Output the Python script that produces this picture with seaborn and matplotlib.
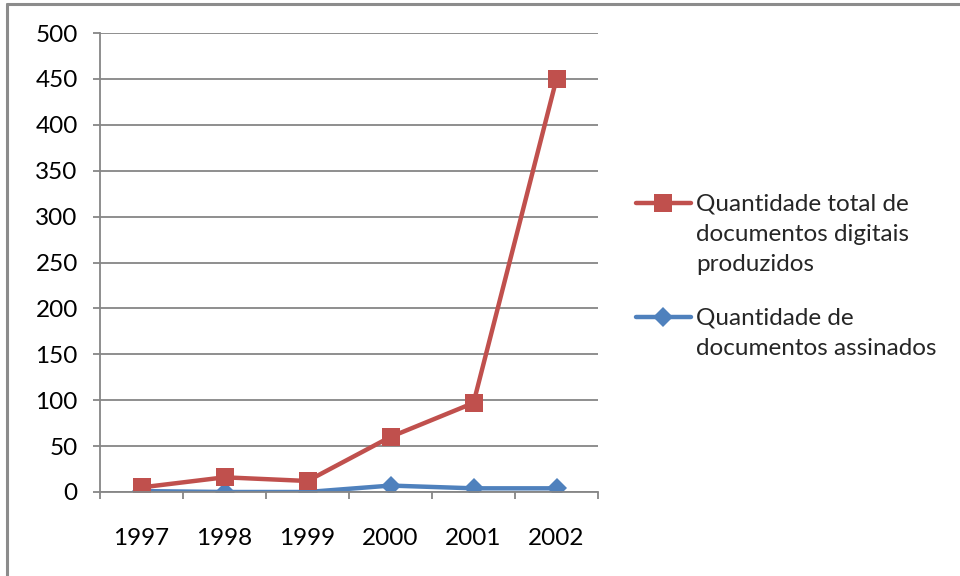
import matplotlib
matplotlib.use("Agg")
import matplotlib.pyplot as plt
from matplotlib.lines import Line2D
import seaborn as sns
import pandas as pd
import numpy as np

years = ["1997", "1998", "1999", "2000", "2001", "2002"]
total_docs = [5, 16, 12, 60, 97, 450]
signed_docs = [1, 0, 0, 7, 4, 4]
label_total = "Quantidade total de\ndocumentos digitais\nproduzidos"
label_signed = "Quantidade de\ndocumentos assinados"

RED = "#C0504D"
BLUE = "#4F81BD"
GRID = "#868686"
FS = 17.5
LS = 1.56

sns.set_theme(style="white")
plt.rcParams['font.family'] = ['Lato', 'DejaVu Sans']

fig = plt.figure(figsize=(9.6, 5.76), dpi=100)
ax = fig.add_axes([100/960, 1-492/576, 498/960, 459/576])

pos = np.arange(len(years))
df = pd.DataFrame({"pos": pos, "total": total_docs, "signed": signed_docs})

sns.lineplot(data=df, x="pos", y="signed", ax=ax, color=BLUE, linewidth=3.2,
             marker="D", markersize=10.5, markeredgewidth=0, label=label_signed)
sns.lineplot(data=df, x="pos", y="total", ax=ax, color=RED, linewidth=3.2,
             marker="s", markersize=13.5, markeredgewidth=0, label=label_total)

ax.set_xlim(-0.5, len(years) - 0.5)
ax.set_ylim(0, 500)
ax.set_yticks(np.arange(0, 501, 50))
ax.set_xticks(pos)
ax.set_xticklabels(years)
ax.set_xticks(np.arange(-0.5, len(years), 1.0), minor=True)
ax.set_xlabel("")
ax.set_ylabel("")

ax.yaxis.grid(True, color=GRID, linewidth=1.3)
ax.set_axisbelow(True)
for s in ["top", "right"]:
    ax.spines[s].set_visible(False)
for s in ["left", "bottom"]:
    ax.spines[s].set_color(GRID)
    ax.spines[s].set_linewidth(1.3)

ax.tick_params(axis="y", which="major", left=True, length=5, width=1.3, color=GRID,
               labelsize=FS, labelcolor="black", pad=11)
ax.tick_params(axis="x", which="major", bottom=False, length=0, labelsize=FS,
               labelcolor="black", pad=26)
ax.tick_params(axis="x", which="minor", bottom=True, length=5, width=1.3, color=GRID)

handles, labels = ax.get_legend_handles_labels()
order = [1, 0]
if ax.get_legend():
    ax.get_legend().remove()
leg = fig.legend([handles[i] for i in order], [labels[i] for i in order],
                 loc="upper left", bbox_to_anchor=(636/960, 1-193/576),
                 frameon=False, fontsize=FS, handlelength=2.26, handletextpad=0.22,
                 labelspacing=1.33, borderpad=0, borderaxespad=0)
for t in leg.get_texts():
    t.set_linespacing(LS)

# frame lines
fig.add_artist(Line2D([7/960, 7/960], [0, 1-3.5/576], transform=fig.transFigure,
                      color="#8C8C8C", linewidth=2.2))
fig.add_artist(Line2D([7/960, 1], [1-3.5/576, 1-3.5/576], transform=fig.transFigure,
                      color="#8C8C8C", linewidth=2.2))

# align legend handles with the first line of each label
fig.canvas.draw()
for h, t in zip(leg.legend_handles, leg.get_texts()):
    bb = t.get_window_extent()
    n = t.get_text().count("\n") + 1
    h1 = bb.height / ((n - 1) * LS + 1)
    target = bb.y1 - h1 * 0.5
    tr = h.get_transform()
    xd = h.get_xdata()
    newy = tr.inverted().transform((0, target))[1]
    h.set_ydata([newy] * len(xd))

fig.savefig("out.png", dpi=100)
